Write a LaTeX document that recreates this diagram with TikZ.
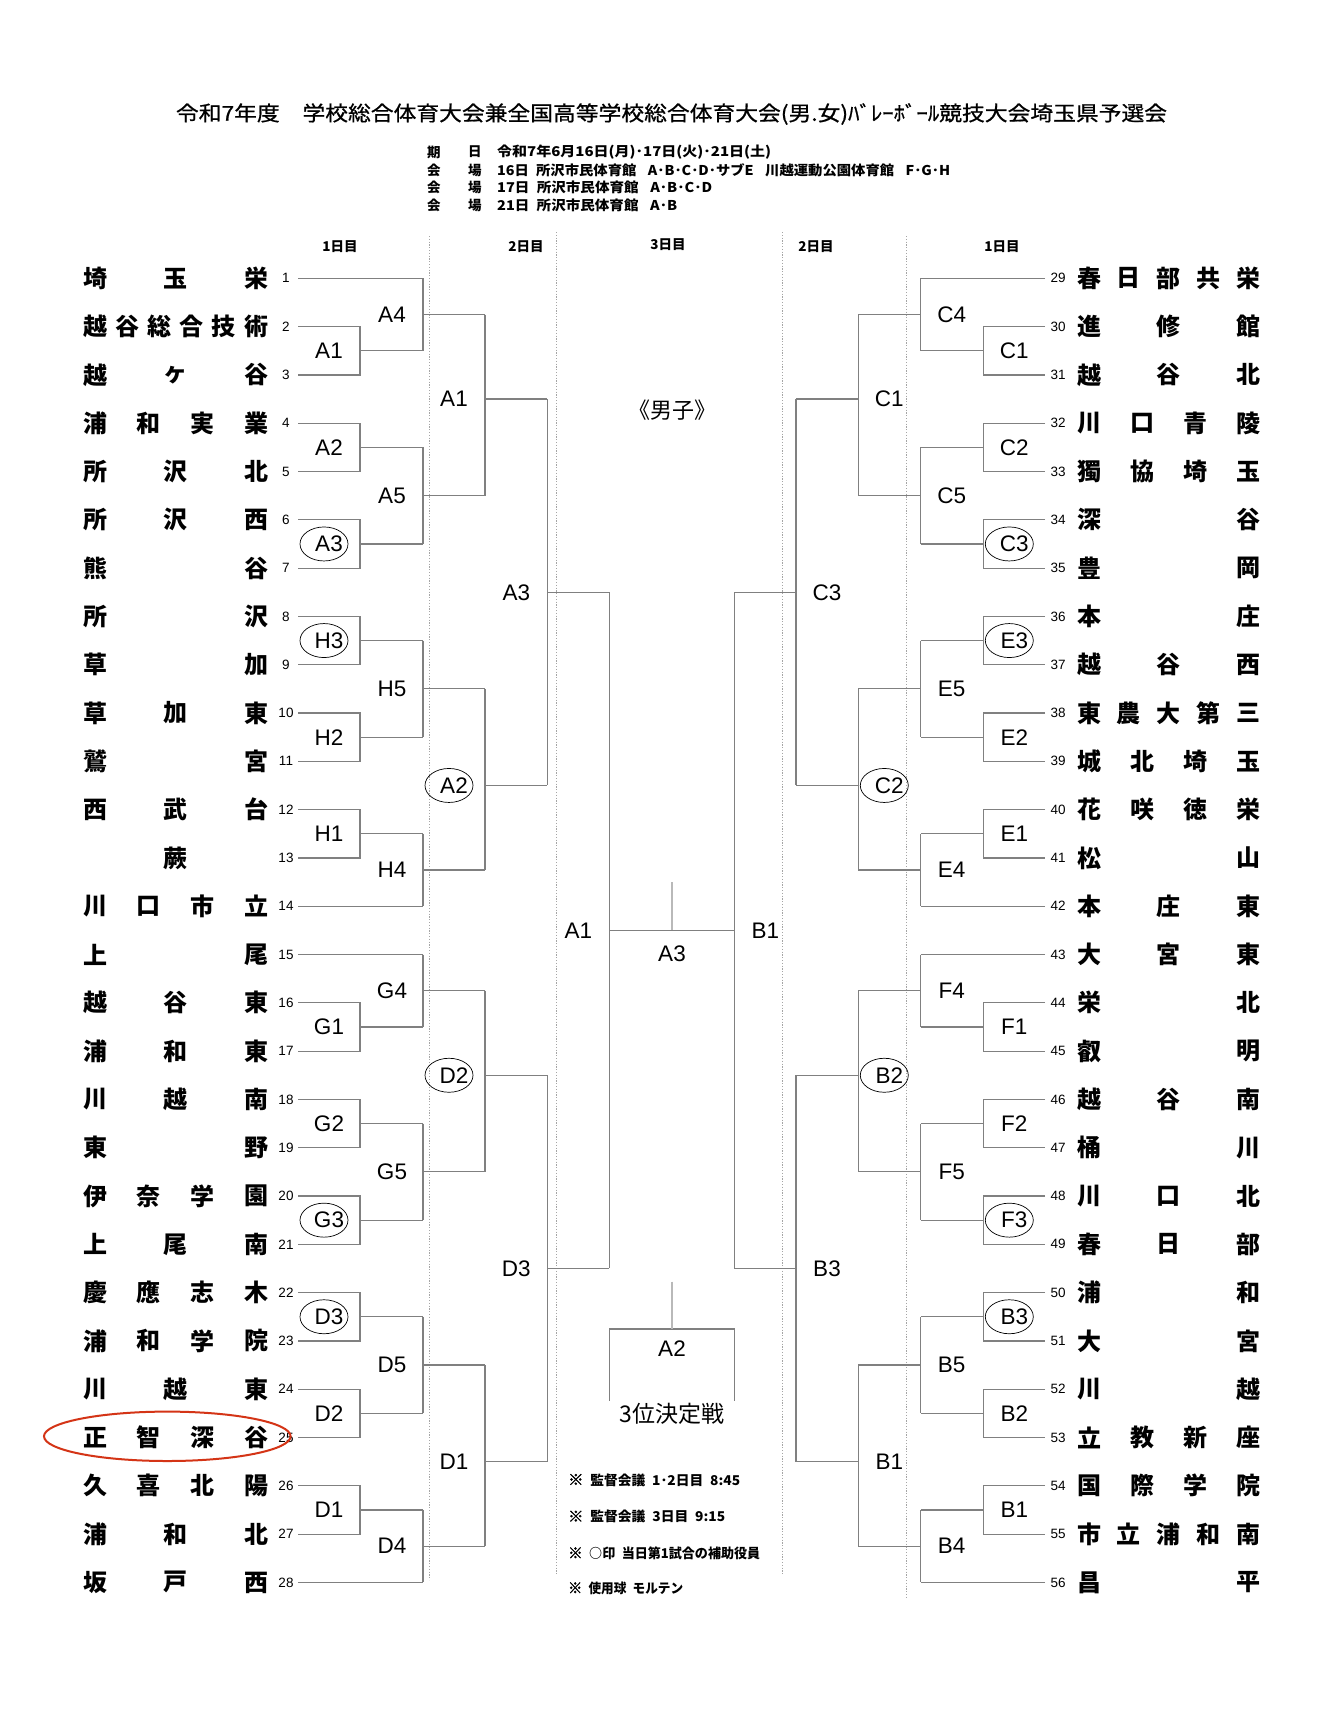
\documentclass[tikz,border=0pt]{standalone}
\usepackage{fontspec}
\usepackage{graphicx}
\usetikzlibrary{shapes.geometric}
\newfontfamily\jp{Noto Sans CJK JP}
\newfontfamily\jpt[FakeBold=0.8]{Noto Sans CJK JP}
\newfontfamily\jpk[FakeBold=2]{Noto Sans CJK JP}
\newfontfamily\lat{Liberation Sans}
\definecolor{brc}{RGB}{128,128,128}
\definecolor{tickc}{RGB}{185,185,185}
\definecolor{dvc}{RGB}{165,165,165}
\definecolor{redc}{RGB}{212,52,22}
\newcommand\kome{{\jpk\fontsize{15pt}{15pt}\selectfont ※}}
\newcommand\teamL[3]{%
  \foreach \ch [count=\ci from 0] in {#3}{%
    \node[tname] (L#1c\ci) at ({95+\ci*161/(#2-1)},{278.3+(#1-1)*48.3}) {\ch};
  }%
  \node[tnum] (nL#1) at (286,{278.3+(#1-1)*48.3}) {#1};
  \coordinate (sL#1) at (298,{278.3+(#1-1)*48.3});
}
\newcommand\teamR[3]{%
  \foreach \ch [count=\ci from 0] in {#3}{%
    \node[tname] (R#1c\ci) at ({1089+\ci*159/(#2-1)},{278.3+(#1-29)*48.3}) {\ch};
  }%
  \node[tnum] (nR#1) at (1058,{278.3+(#1-29)*48.3}) {#1};
  \coordinate (sR#1) at (1045,{278.3+(#1-29)*48.3});
}
% match: name, x vertical, x end, q, label
\newcommand\matL[5]{%
  \coordinate (#1-v) at (#2,{278.3+#4*12.075});
  \coordinate (#1-e) at (#3,{278.3+#4*12.075});
  \draw[br] (#1-v) -- (#1-e);
  \node[lab] (#1-l) at ({#2-31},{278.3+#4*12.075}) {#5};
}
\newcommand\matR[5]{%
  \coordinate (#1-v) at (#2,{278.3+#4*12.075});
  \coordinate (#1-e) at (#3,{278.3+#4*12.075});
  \draw[br] (#1-v) -- (#1-e);
  \node[lab] (#1-l) at ({#2+31},{278.3+#4*12.075}) {#5};
}
\newcommand\ringlab[1]{\node[ell] (#1-o) at ([xshift=-5pt]#1-l.center) {};}
\begin{document}
\begin{tikzpicture}[x=1pt,y=-1pt,
  br/.style={draw=brc, line width=1.2pt},
  tname/.style={font={\jp\bfseries\fontsize{24pt}{24pt}\selectfont}, inner sep=0pt},
  tnum/.style={font={\lat\fontsize{13.5pt}{13.5pt}\selectfont}, inner sep=0pt},
  lab/.style={font={\lat\fontsize{22.5pt}{22.5pt}\selectfont}, inner sep=0pt},
  ell/.style={draw=black, line width=0.7pt, ellipse, minimum width=48pt, minimum height=34pt, inner sep=0pt},
  dv/.style={draw=dvc, line width=0.7pt, dash pattern=on 1.2pt off 1.6pt},
  hdr/.style={font={\jp\bfseries\fontsize{13.5pt}{13.5pt}\selectfont}, inner sep=0pt},
  info/.style={font={\jp\bfseries\fontsize{13.5pt}{13.5pt}\selectfont}, inner sep=0pt},
  note/.style={font={\jp\bfseries\fontsize{13.5pt}{13.5pt}\selectfont}, inner sep=0pt, anchor=west},
]
\useasboundingbox (0,0) rectangle (1330,1722);
\fill[white] (0,0) rectangle (1330,1722);

% title and info
\node[inner sep=0pt, font={\jpt\fontsize{20.5pt}{20.5pt}\selectfont}] (title) at (671.5,114)
  {\resizebox{991pt}{\height}{令和7年度　学校総合体育大会兼全国高等学校総合体育大会(男.女)ﾊﾞﾚｰﾎﾞｰﾙ競技大会埼玉県予選会}};
\node[info, anchor=west] (i1a) at (427,152) {期};
\node[info, anchor=west] (i1b) at (468,152) {日};
\node[info, anchor=west] (i1c) at (497,152) {\resizebox{274pt}{\height}{令和7年6月16日(月)･17日(火)･21日(土)}};
\node[info, anchor=west] (i2a) at (427,170) {会};
\node[info, anchor=west] (i2b) at (468,170) {場};
\node[info, anchor=west] (i2c) at (497,170) {\resizebox{453pt}{\height}{16日\hspace{0.5em}所沢市民体育館\hspace{0.8em}A･B･C･D･サブE\hspace{0.8em}川越運動公園体育館\hspace{0.8em}F･G･H}};
\node[info, anchor=west] (i3a) at (427,187.5) {会};
\node[info, anchor=west] (i3b) at (468,187.5) {場};
\node[info, anchor=west] (i3c) at (497,187.5) {\resizebox{215pt}{\height}{17日\hspace{0.5em}所沢市民体育館\hspace{0.8em}A･B･C･D}};
\node[info, anchor=west] (i4a) at (427,205) {会};
\node[info, anchor=west] (i4b) at (468,205) {場};
\node[info, anchor=west] (i4c) at (497,205) {\resizebox{180pt}{\height}{21日\hspace{0.5em}所沢市民体育館\hspace{0.8em}A･B}};

% column headers
\node[hdr] (h1) at (340,247) {1日目};
\node[hdr] (h2) at (526,247) {2日目};
\node[hdr] (h3) at (668,245) {3日目};
\node[hdr] (h4) at (816,247) {2日目};
\node[hdr] (h5) at (1002,247) {1日目};

% dotted dividers
\coordinate (d1t) at (429.5,236); \coordinate (d1b) at (429.5,1580);
\coordinate (d2t) at (556.7,232); \coordinate (d2b) at (556.7,1575);
\coordinate (d3t) at (782.3,232); \coordinate (d3b) at (782.3,1575);
\coordinate (d4t) at (906.7,236); \coordinate (d4b) at (906.7,1598);
\draw[dv] (d1t) -- (d1b);
\draw[dv] (d2t) -- (d2b);
\draw[dv] (d3t) -- (d3b);
\draw[dv] (d4t) -- (d4b);

% left teams
\teamL{1}{3}{埼,玉,栄}
\teamL{2}{6}{越,谷,総,合,技,術}
\teamL{3}{3}{越,ヶ,谷}
\teamL{4}{4}{浦,和,実,業}
\teamL{5}{3}{所,沢,北}
\teamL{6}{3}{所,沢,西}
\teamL{7}{2}{熊,谷}
\teamL{8}{2}{所,沢}
\teamL{9}{2}{草,加}
\teamL{10}{3}{草,加,東}
\teamL{11}{2}{鷲,宮}
\teamL{12}{3}{西,武,台}
\node[tname] (L13c0) at (175.5,{278.3+12*48.3}) {蕨};
\node[tnum] (nL13) at (286,{278.3+12*48.3}) {13};
\coordinate (sL13) at (298,{278.3+12*48.3});
\teamL{14}{4}{川,口,市,立}
\teamL{15}{2}{上,尾}
\teamL{16}{3}{越,谷,東}
\teamL{17}{3}{浦,和,東}
\teamL{18}{3}{川,越,南}
\teamL{19}{2}{東,野}
\teamL{20}{4}{伊,奈,学,園}
\teamL{21}{3}{上,尾,南}
\teamL{22}{4}{慶,應,志,木}
\teamL{23}{4}{浦,和,学,院}
\teamL{24}{3}{川,越,東}
\teamL{25}{4}{正,智,深,谷}
\teamL{26}{4}{久,喜,北,陽}
\teamL{27}{3}{浦,和,北}
\teamL{28}{3}{坂,戸,西}

% right teams
\teamR{29}{5}{春,日,部,共,栄}
\teamR{30}{3}{進,修,館}
\teamR{31}{3}{越,谷,北}
\teamR{32}{4}{川,口,青,陵}
\teamR{33}{4}{獨,協,埼,玉}
\teamR{34}{2}{深,谷}
\teamR{35}{2}{豊,岡}
\teamR{36}{2}{本,庄}
\teamR{37}{3}{越,谷,西}
\teamR{38}{5}{東,農,大,第,三}
\teamR{39}{4}{城,北,埼,玉}
\teamR{40}{4}{花,咲,徳,栄}
\teamR{41}{2}{松,山}
\teamR{42}{3}{本,庄,東}
\teamR{43}{3}{大,宮,東}
\teamR{44}{2}{栄,北}
\teamR{45}{2}{叡,明}
\teamR{46}{3}{越,谷,南}
\teamR{47}{2}{桶,川}
\teamR{48}{3}{川,口,北}
\teamR{49}{3}{春,日,部}
\teamR{50}{2}{浦,和}
\teamR{51}{2}{大,宮}
\teamR{52}{2}{川,越}
\teamR{53}{4}{立,教,新,座}
\teamR{54}{4}{国,際,学,院}
\teamR{55}{5}{市,立,浦,和,南}
\teamR{56}{2}{昌,平}

% ---------- left bracket ----------
\matL{L1A1}{360}{423}{6}{A1}   \draw[br] (sL2) -| (L1A1-v) |- (sL3);
\matL{L1A2}{360}{423}{14}{A2}  \draw[br] (sL4) -| (L1A2-v) |- (sL5);
\matL{L1A3}{360}{423}{22}{A3}  \draw[br] (sL6) -| (L1A3-v) |- (sL7); \ringlab{L1A3}
\matL{L1H3}{360}{423}{30}{H3}  \draw[br] (sL8) -| (L1H3-v) |- (sL9); \ringlab{L1H3}
\matL{L1H2}{360}{423}{38}{H2}  \draw[br] (sL10) -| (L1H2-v) |- (sL11);
\matL{L1H1}{360}{423}{46}{H1}  \draw[br] (sL12) -| (L1H1-v) |- (sL13);
\matL{L1G1}{360}{423}{62}{G1}  \draw[br] (sL16) -| (L1G1-v) |- (sL17);
\matL{L1G2}{360}{423}{70}{G2}  \draw[br] (sL18) -| (L1G2-v) |- (sL19);
\matL{L1G3}{360}{423}{78}{G3}  \draw[br] (sL20) -| (L1G3-v) |- (sL21); \ringlab{L1G3}
\matL{L1D3}{360}{423}{86}{D3}  \draw[br] (sL22) -| (L1D3-v) |- (sL23); \ringlab{L1D3}
\matL{L1D2}{360}{423}{94}{D2}  \draw[br] (sL24) -| (L1D2-v) |- (sL25);
\matL{L1D1}{360}{423}{102}{D1} \draw[br] (sL26) -| (L1D1-v) |- (sL27);
\coordinate (eL1) at (423,{278.3+0*48.3});   \draw[br] (sL1) -- (eL1);
\coordinate (eL14) at (423,{278.3+13*48.3}); \draw[br] (sL14) -- (eL14);
\coordinate (eL15) at (423,{278.3+14*48.3}); \draw[br] (sL15) -- (eL15);
\coordinate (eL28) at (423,{278.3+27*48.3}); \draw[br] (sL28) -- (eL28);
\matL{L2A4}{423}{485}{3}{A4}    \draw[br] (eL1) -- (L1A1-e);
\matL{L2A5}{423}{485}{18}{A5}   \draw[br] (L1A2-e) -- (L1A3-e);
\matL{L2H5}{423}{485}{34}{H5}   \draw[br] (L1H3-e) -- (L1H2-e);
\matL{L2H4}{423}{485}{49}{H4}   \draw[br] (L1H1-e) -- (eL14);
\matL{L2G4}{423}{485}{59}{G4}   \draw[br] (eL15) -- (L1G1-e);
\matL{L2G5}{423}{485}{74}{G5}   \draw[br] (L1G2-e) -- (L1G3-e);
\matL{L2D5}{423}{485}{90}{D5}   \draw[br] (L1D3-e) -- (L1D2-e);
\matL{L2D4}{423}{485}{105}{D4}  \draw[br] (L1D1-e) -- (eL28);
\matL{L3A1}{485}{547.3}{10}{A1} \draw[br] (L2A4-e) -- (L2A5-e);
\matL{L3A2}{485}{547.3}{42}{A2} \draw[br] (L2H5-e) -- (L2H4-e); \ringlab{L3A2}
\matL{L3D2}{485}{547.3}{66}{D2} \draw[br] (L2G4-e) -- (L2G5-e); \ringlab{L3D2}
\matL{L3D1}{485}{547.3}{98}{D1} \draw[br] (L2D5-e) -- (L2D4-e);
\matL{L4A3}{547.3}{609.3}{26}{A3} \draw[br] (L3A1-e) -- (L3A2-e);
\matL{L4D3}{547.3}{609.3}{82}{D3} \draw[br] (L3D2-e) -- (L3D1-e);
\draw[br] (L4A3-e) -- (L4D3-e);
\coordinate (L5A1-v) at (609.3,{278.3+54*12.075});
\node[lab] (L5A1-l) at (578.3,{278.3+54*12.075}) {A1};

% ---------- right bracket ----------
\matR{R1C1}{983.3}{920.7}{6}{C1}   \draw[br] (sR30) -| (R1C1-v) |- (sR31);
\matR{R1C2}{983.3}{920.7}{14}{C2}  \draw[br] (sR32) -| (R1C2-v) |- (sR33);
\matR{R1C3}{983.3}{920.7}{22}{C3}  \draw[br] (sR34) -| (R1C3-v) |- (sR35); \ringlab{R1C3}
\matR{R1E3}{983.3}{920.7}{30}{E3}  \draw[br] (sR36) -| (R1E3-v) |- (sR37); \ringlab{R1E3}
\matR{R1E2}{983.3}{920.7}{38}{E2}  \draw[br] (sR38) -| (R1E2-v) |- (sR39);
\matR{R1E1}{983.3}{920.7}{46}{E1}  \draw[br] (sR40) -| (R1E1-v) |- (sR41);
\matR{R1F1}{983.3}{920.7}{62}{F1}  \draw[br] (sR44) -| (R1F1-v) |- (sR45);
\matR{R1F2}{983.3}{920.7}{70}{F2}  \draw[br] (sR46) -| (R1F2-v) |- (sR47);
\matR{R1F3}{983.3}{920.7}{78}{F3}  \draw[br] (sR48) -| (R1F3-v) |- (sR49); \ringlab{R1F3}
\matR{R1B3}{983.3}{920.7}{86}{B3}  \draw[br] (sR50) -| (R1B3-v) |- (sR51); \ringlab{R1B3}
\matR{R1B2}{983.3}{920.7}{94}{B2}  \draw[br] (sR52) -| (R1B2-v) |- (sR53);
\matR{R1B1}{983.3}{920.7}{102}{B1} \draw[br] (sR54) -| (R1B1-v) |- (sR55);
\coordinate (eR29) at (920.7,{278.3+0*48.3});  \draw[br] (sR29) -- (eR29);
\coordinate (eR42) at (920.7,{278.3+13*48.3}); \draw[br] (sR42) -- (eR42);
\coordinate (eR43) at (920.7,{278.3+14*48.3}); \draw[br] (sR43) -- (eR43);
\coordinate (eR56) at (920.7,{278.3+27*48.3}); \draw[br] (sR56) -- (eR56);
\matR{R2C4}{920.7}{858.3}{3}{C4}    \draw[br] (eR29) -- (R1C1-e);
\matR{R2C5}{920.7}{858.3}{18}{C5}   \draw[br] (R1C2-e) -- (R1C3-e);
\matR{R2E5}{920.7}{858.3}{34}{E5}   \draw[br] (R1E3-e) -- (R1E2-e);
\matR{R2E4}{920.7}{858.3}{49}{E4}   \draw[br] (R1E1-e) -- (eR42);
\matR{R2F4}{920.7}{858.3}{59}{F4}   \draw[br] (eR43) -- (R1F1-e);
\matR{R2F5}{920.7}{858.3}{74}{F5}   \draw[br] (R1F2-e) -- (R1F3-e);
\matR{R2B5}{920.7}{858.3}{90}{B5}   \draw[br] (R1B3-e) -- (R1B2-e);
\matR{R2B4}{920.7}{858.3}{105}{B4}  \draw[br] (R1B1-e) -- (eR56);
\matR{R3C1}{858.3}{796}{10}{C1} \draw[br] (R2C4-e) -- (R2C5-e);
\matR{R3C2}{858.3}{796}{42}{C2} \draw[br] (R2E5-e) -- (R2E4-e); \ringlab{R3C2}
\matR{R3B2}{858.3}{796}{66}{B2} \draw[br] (R2F4-e) -- (R2F5-e); \ringlab{R3B2}
\matR{R3B1}{858.3}{796}{98}{B1} \draw[br] (R2B5-e) -- (R2B4-e);
\matR{R4C3}{796}{734.3}{26}{C3} \draw[br] (R3C1-e) -- (R3C2-e);
\matR{R4B3}{796}{734.3}{82}{B3} \draw[br] (R3B2-e) -- (R3B1-e);
\draw[br] (R4C3-e) -- (R4B3-e);
\coordinate (R5B1-v) at (734.3,{278.3+54*12.075});
\node[lab] (R5B1-l) at (765.3,{278.3+54*12.075}) {B1};

% final
\draw[br] (L5A1-v) -- (R5B1-v);
\coordinate (fint) at (672,882.3); \coordinate (finb) at (672,{278.3+54*12.075});
\draw[draw=tickc, line width=2pt] (fint) -- (finb);
\node[lab] (finl) at (672,954) {A3};
\node[font={\jp\fontsize{22pt}{22pt}\selectfont}, inner sep=0pt] (boys) at (672,410.6) {《男子》};

% third place
\coordinate (tpt) at (672,1281.7); \coordinate (tpm) at (672,1329);
\coordinate (tpl) at (609.3,1329); \coordinate (tpr) at (734.3,1329);
\coordinate (tplb) at (609.3,1400.7); \coordinate (tprb) at (734.3,1400.7);
\draw[br] (tplb) -- (tpl) -- (tpr) -- (tprb);
\draw[draw=tickc, line width=2pt] (tpt) -- (tpm);
\node[lab] (tplab) at (672,1348.3) {A2};
\node[font={\jp\fontsize{23pt}{23pt}\selectfont}, inner sep=0pt] (tptxt) at (672,1414) {3位決定戦};

% notes
\node[note] (n1) at (568,1480) {\resizebox{172pt}{\height}{\kome\hspace{0.5em}監督会議\hspace{0.5em}1･2日目\hspace{0.5em}8:45}};
\node[note] (n2) at (568,1516.7) {\resizebox{157pt}{\height}{\kome\hspace{0.5em}監督会議\hspace{0.5em}3日目\hspace{0.5em}9:15}};
\node[note] (n3) at (568,1553.3) {\resizebox{192pt}{\height}{\kome\hspace{0.5em}○印\hspace{0.5em}当日第1試合の補助役員}};
\node[note] (n4) at (568,1588.3) {\resizebox{115pt}{\height}{\kome\hspace{0.5em}使用球\hspace{0.5em}モルテン}};

% red highlight
\node[draw=redc, line width=2pt, ellipse, minimum width=246.6pt, minimum height=49.4pt, inner sep=0pt] (hl) at (167.3,1436.3) {};
\end{tikzpicture}
\end{document}
